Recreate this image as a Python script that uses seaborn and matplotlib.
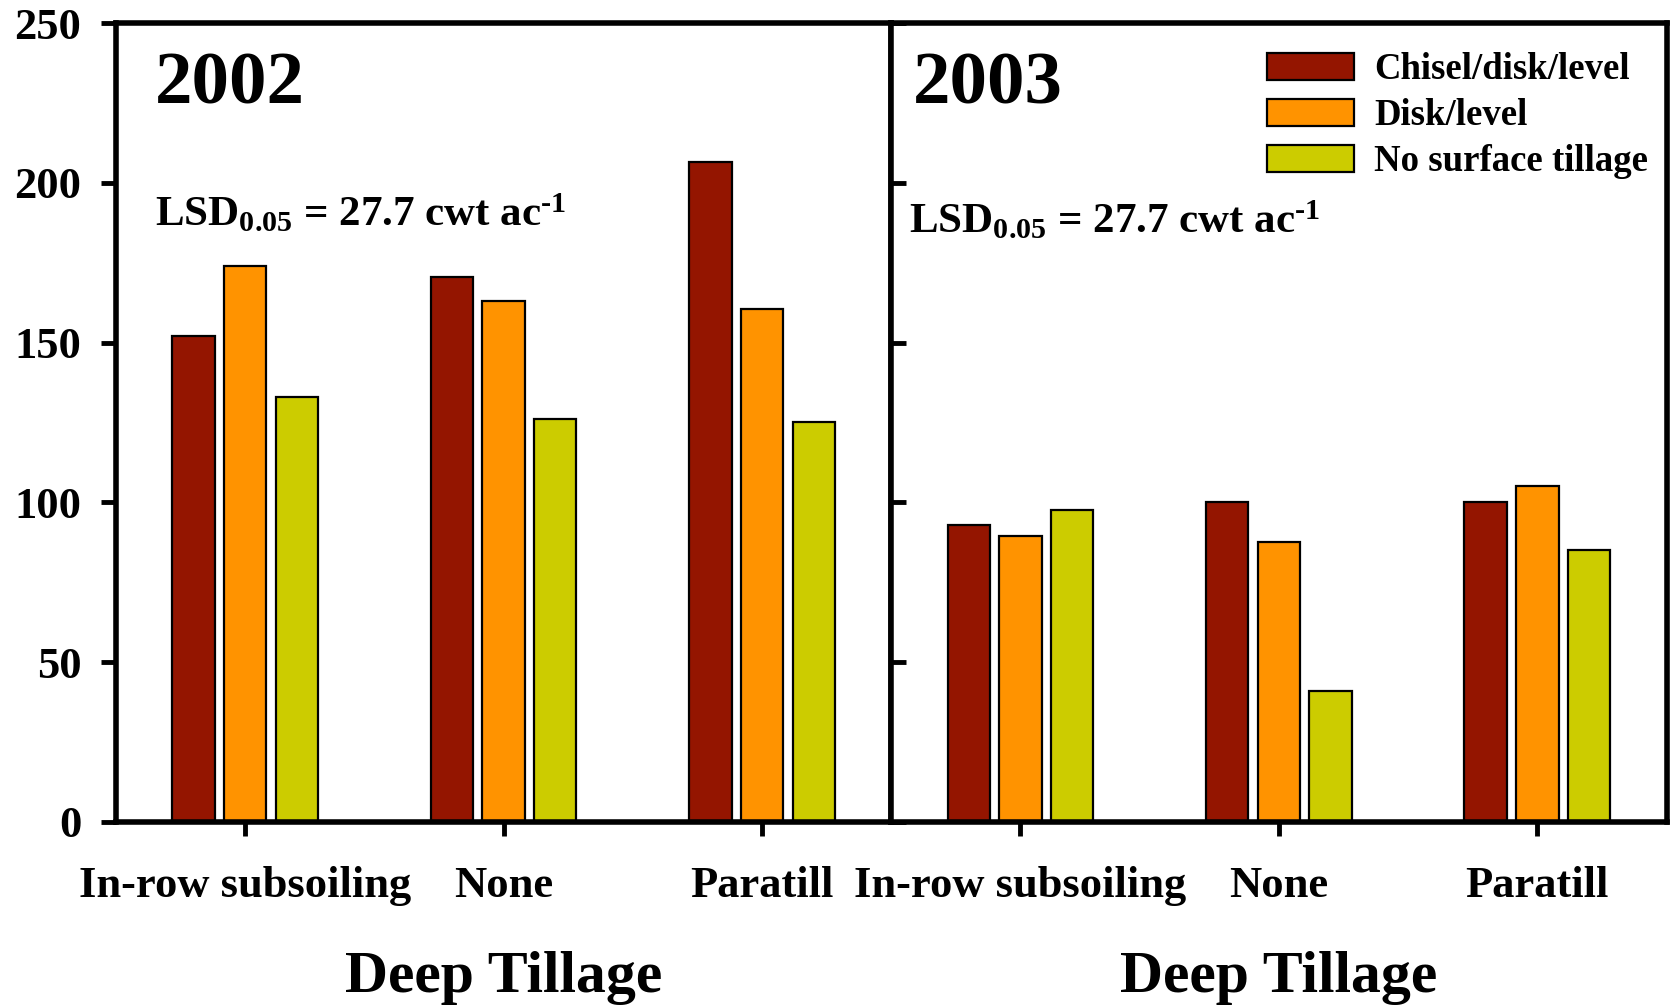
import pandas as pd
import matplotlib
matplotlib.use("Agg")
import matplotlib.pyplot as plt
import seaborn as sns

# chart data
deep_tillage = ["In-row subsoiling", "None", "Paratill"]
surface_tillage = ["Chisel/disk/level", "Disk/level", "No surface tillage"]
colors = ["#941500", "#FF9300", "#CCCC00"]

yield_2002 = {
    "Chisel/disk/level": [152, 170.5, 206.5],
    "Disk/level": [174, 163, 160.5],
    "No surface tillage": [133, 126, 125],
}
yield_2003 = {
    "Chisel/disk/level": [93, 100, 100],
    "Disk/level": [89.5, 87.5, 105],
    "No surface tillage": [97.5, 41, 85],
}
years = ["2002", "2003"]
yticks = [0, 50, 100, 150, 200, 250]
lsd_text = r"LSD$_{0.05}$ = 27.7 cwt ac$^{\text{-1}}$"


def to_long(d):
    rows = []
    for s in surface_tillage:
        for dt, v in zip(deep_tillage, d[s]):
            rows.append({"Deep": dt, "Surface": s, "Yield": v})
    return pd.DataFrame(rows)


sns.set_style("ticks")
plt.rcParams["font.family"] = ["Liberation Serif", "DejaVu Serif"]
plt.rcParams["font.weight"] = "bold"
plt.rcParams["mathtext.fontset"] = "custom"
plt.rcParams["mathtext.rm"] = "Liberation Serif:bold"
plt.rcParams["mathtext.it"] = "Liberation Serif:bold"
plt.rcParams["mathtext.bf"] = "Liberation Serif:bold"
plt.rcParams["mathtext.default"] = "regular"
plt.rcParams["text.color"] = "black"
plt.rcParams["axes.labelcolor"] = "black"
plt.rcParams["xtick.color"] = "black"
plt.rcParams["ytick.color"] = "black"
plt.rcParams["axes.edgecolor"] = "black"

fig, axes = plt.subplots(1, 2, figsize=(16.8, 10.07), dpi=100, sharey=True)
fig.subplots_adjust(left=0.069, right=0.992, top=0.977, bottom=0.184, wspace=0)

for i, (ax, data, yr) in enumerate(zip(axes, [yield_2002, yield_2003], years)):
    df = to_long(data)
    sns.barplot(data=df, x="Deep", y="Yield", hue="Surface", order=deep_tillage,
                hue_order=surface_tillage, palette=colors, saturation=1,
                width=0.6, gap=0.18, edgecolor="black", linewidth=1.6,
                errorbar=None, ax=ax, legend=(i == 1))
    ax.set_xlim(-0.5, 2.5)
    ax.set_ylim(0, 250)
    ax.set_yticks(yticks)
    for sp in ax.spines.values():
        sp.set_visible(True)
        sp.set_linewidth(4)
    ax.set_ylabel("")
    ax.set_xlabel("Deep Tillage", fontsize=43, fontweight="bold", labelpad=32)
    ax.tick_params(axis="x", direction="out", length=10, width=3.5, pad=22, labelsize=32)
    if i == 0:
        ax.tick_params(axis="y", direction="out", length=11, width=3.5, pad=14, labelsize=32)
        ax.text(0.05, 0.9, yr, transform=ax.transAxes, fontsize=54, fontweight="bold")
        ax.text(0.05, 0.745, lsd_text, transform=ax.transAxes, fontsize=31, fontweight="bold")
    else:
        ax.tick_params(axis="y", direction="in", length=11, width=3.5, labelleft=False)
        ax.text(0.028, 0.9, yr, transform=ax.transAxes, fontsize=54, fontweight="bold")
        ax.text(0.023, 0.737, lsd_text, transform=ax.transAxes, fontsize=31, fontweight="bold")
        ax.legend(loc="upper right", bbox_to_anchor=(0.995, 0.982), frameon=False,
                  fontsize=26.5, handlelength=2.35, handleheight=0.75, labelspacing=0.3,
                  handletextpad=0.55, borderaxespad=0)

plt.savefig("out.png", dpi=100)
